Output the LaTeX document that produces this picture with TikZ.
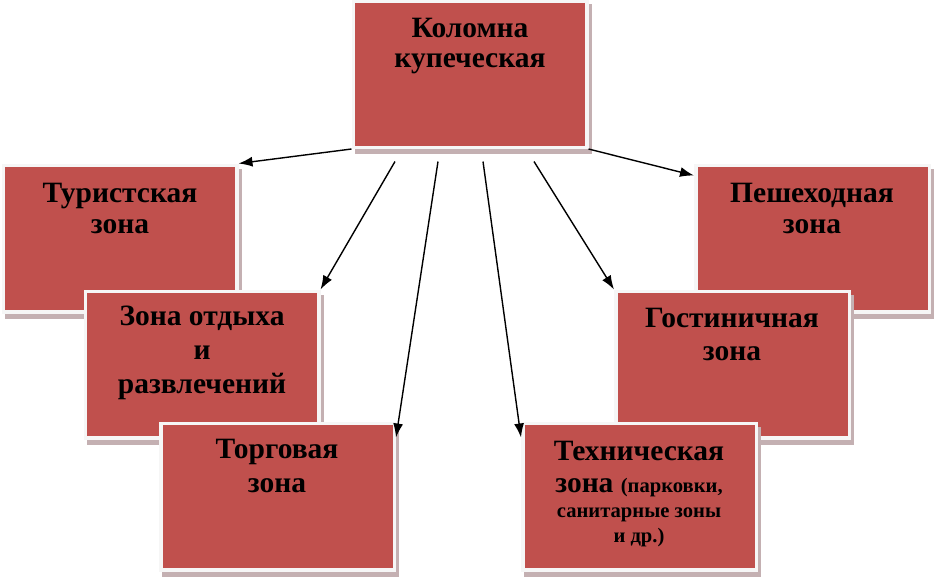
\documentclass[tikz,border=0pt]{standalone}
\usepackage{fontspec}
\setmainfont{Liberation Serif}
\usetikzlibrary{arrows.meta,calc,shadows}
\definecolor{zred}{RGB}{192,80,77}
\definecolor{zshadow}{RGB}{196,176,178}
\definecolor{zborder}{RGB}{246,246,246}
\tikzset{
  zbox/.style={rectangle, inner sep=0pt, outer sep=0pt,
    minimum width=237pt, minimum height=150pt, fill=zborder,
    drop shadow={shadow xshift=3pt, shadow yshift=-5pt, fill=zshadow, opacity=1},
    path picture={\fill[zred] ([shift={(3.5pt,-3.5pt)}]path picture bounding box.north west)
      rectangle ([shift={(-3.5pt,3.5pt)}]path picture bounding box.south east);}},
  big/.style={anchor=base, inner sep=0pt, font=\fontsize{29.5}{33}\selectfont\bfseries},
  small/.style={anchor=base, inner sep=0pt, font=\fontsize{20.6}{24}\selectfont\bfseries},
  arr/.style={-{Latex[length=14pt,width=10pt]}, line width=1.4pt, black}
}
\begin{document}
\begin{tikzpicture}[x=1pt,y=-1pt]
\useasboundingbox (0,0) rectangle (936,579);
% boxes (drawing order for overlaps)
\node[zbox] (top) at (470,74) {};
\node[zbox] (tour) at (120,238.5) {};
\node[zbox] (pesh) at (812.5,238.5) {};
\node[zbox] (otd) at (202,364.5) {};
\node[zbox] (gost) at (732.5,364.5) {};
\node[zbox] (torg) at (277.5,496.5) {};
\node[zbox] (tech) at (639.5,496.5) {};
% texts
\node[big] (topa) at (470,37) {Коломна};
\node[big] (topb) at (470,67) {купеческая};
\node[big] (toura) at (120,202) {Туристская};
\node[big] (tourb) at (120,233) {зона};
\node[big] (pesha) at (812,202) {Пешеходная};
\node[big] (peshb) at (812,233) {зона};
\node[big] (otda) at (202,325) {Зона отдыха};
\node[big] (otdb) at (202,359) {и};
\node[big] (otdc) at (202,393) {развлечений};
\node[big] (gosta) at (732,327) {Гостиничная};
\node[big] (gostb) at (732,360) {зона};
\node[big] (torga) at (277,458) {Торговая};
\node[big] (torgb) at (277,492) {зона};
\node[big] (techa) at (639,460) {Техническая};
\node[big] (techb) at (639,492) {зона {\fontsize{20.6}{24}\selectfont (парковки,}};
\node[small] (techc) at (639,517) {санитарные зоны};
\node[small] (techd) at (639,542) {и др.)};
% arrows
\draw[arr] (top.south west) -- (tour.north east);
\draw[arr] (top.south east) -- ($(pesh.north west)+(0,12)$);
\draw[arr] ($(top.south west)+(43.5,12.5)$) -- (otd.north east);
\draw[arr] ($(top.south west)+(86.5,12.5)$) -- ($(torg.north east)+(0,16)$);
\draw[arr] ($(top.south west)+(131.5,12.5)$) -- ($(tech.north west)+(0,16)$);
\draw[arr] ($(top.south west)+(182.5,12.5)$) -- (gost.north west);
\end{tikzpicture}
\end{document}
